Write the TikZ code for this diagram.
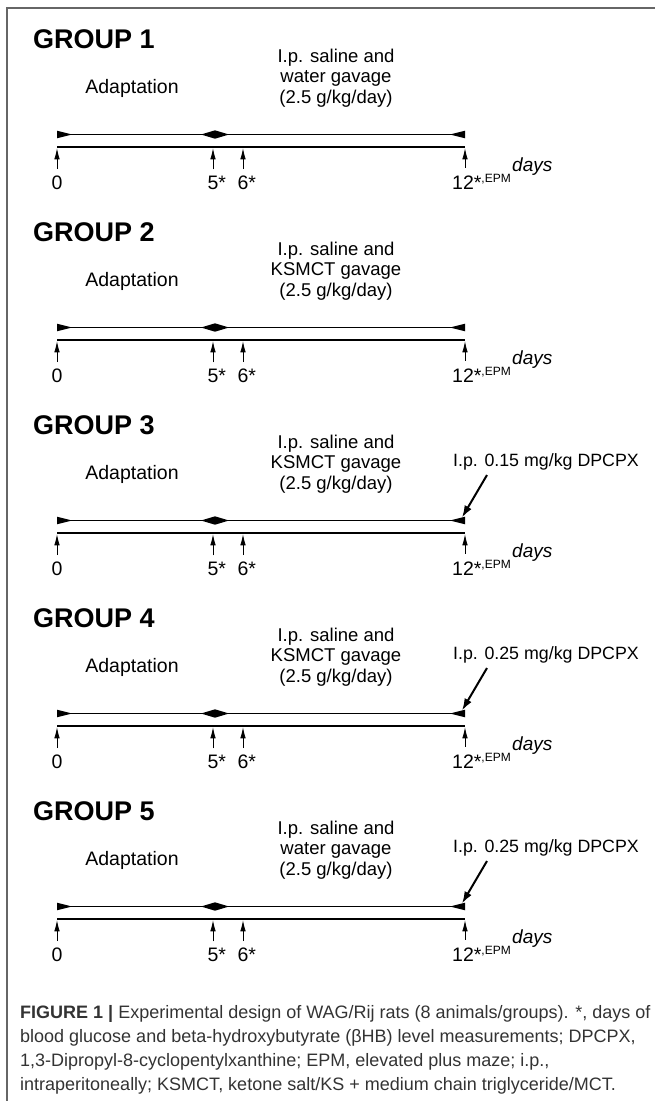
\documentclass[tikz,border=0pt]{standalone}
\usepackage{fontspec}
\setmainfont{Liberation Sans}
\usetikzlibrary{arrows.meta}
\newcommand\groupblock[4]{%
\begin{scope}[shift={(0,#1)}]
\node[title] (title#2) at (33,-99) {GROUP #2};
\node[txt] (treat#2) at (336,-69) {I.p. saline and\\#3 gavage\\(2.5 g/kg/day)};
\node[adtxt] (adapt#2) at (132,-59) {Adaptation};
\coordinate (s#2) at (57,-12.5);
\coordinate (m#2) at (215,-12.5);
\coordinate (e#2) at (465,-12.5);
\draw[thinline] (s#2) -- (e#2);
\fill (s#2) ++(0,-3.8) -- ++(15,3.8) -- ++(-15,3.8) -- cycle;
\fill (m#2) ++(-14,0) -- ++(14,-4.2) -- ++(14,4.2) -- ++(-14,4.2) -- cycle;
\fill (e#2) ++(0,-3.8) -- ++(-15,3.8) -- ++(15,3.8) -- cycle;
\coordinate (a0#2) at (57,0);
\coordinate (a12#2) at (465,0);
\draw[thickline] (a0#2) -- (a12#2);
\node[lbl] (l0#2) at (57,42) {0};
\node[lbl] (l5#2) at (213,42) {5\rlap{*}};
\node[lbl] (l6#2) at (243,42) {6\rlap{*}};
\node[lbl] (l12#2) at (463,42) {12\rlap{*\raisebox{7pt}{\fontsize{12}{12}\selectfont ,EPM}}};
\node[daysl] (days#2) at (512,24) {days};
\foreach \n in {l0#2,l5#2,l6#2} {
  \draw[uparrow] ([yshift=6pt]\n.north) -- ([yshift=-1.3pt]\n.north |- a0#2);
}
\draw[uparrow] ([yshift=6pt]a12#2 |- l12#2.north) -- ([yshift=-1.3pt]a12#2);
\if\relax\detokenize{#4}\relax\else
  \node[dosetxt] (dose#2) at (546,-71) {I.p. #4 mg/kg DPCPX};
  \coordinate (ps#2) at (487,-58);
  \coordinate (pe#2) at (462,-15.5);
  \draw[ptr] (ps#2) -- (pe#2);
\fi
\end{scope}}
\begin{document}
\begin{tikzpicture}[x=1pt,y=-1pt,
  title/.style={anchor=base west, font=\fontsize{27}{30}\selectfont\bfseries, inner sep=0},
  txt/.style={font=\fontsize{18.5}{20.5}\selectfont, inner sep=0, align=center},
  adtxt/.style={font=\fontsize{19.5}{22}\selectfont, inner sep=0},
  dosetxt/.style={font=\fontsize{17.8}{20}\selectfont, inner sep=0},
  lbl/.style={anchor=base, font=\fontsize{19.5}{22}\selectfont, inner sep=0},
  daysl/.style={anchor=base west, font=\fontsize{19}{22}\selectfont\itshape, inner sep=0},
  captext/.style={anchor=base west, font=\fontsize{18}{23}\selectfont, text=black!80, inner sep=0},
  thinline/.style={line width=1.2pt},
  thickline/.style={line width=2.6pt},
  uparrow/.style={line width=0.8pt, -{Latex[length=11pt,width=5.5pt]}},
  ptr/.style={line width=2pt, -{Latex[length=12pt,width=8pt]}},
]
\useasboundingbox (0,0) rectangle (655,1101);
\draw[black!60, line width=1.5pt] (7,1101) -- (7,8) -- (655,8);
\groupblock{147}{1}{water}{}
\groupblock{340}{2}{KSMCT}{}
\groupblock{533}{3}{KSMCT}{0.15}
\groupblock{726}{4}{KSMCT}{0.25}
\groupblock{919}{5}{water}{0.25}
\node[captext] (cap1) at (20,1018) {\textbf{FIGURE 1 |} Experimental design of WAG/Rij rats (8 animals/groups). *, days of};
\node[captext] (cap2) at (20,1042) {blood glucose and beta-hydroxybutyrate (βHB) level measurements; DPCPX,};
\node[captext] (cap3) at (20,1066) {1,3-Dipropyl-8-cyclopentylxanthine; EPM, elevated plus maze; i.p.,};
\node[captext] (cap4) at (20,1090) {intraperitoneally; KSMCT, ketone salt/KS + medium chain triglyceride/MCT.};
\end{tikzpicture}
\end{document}
